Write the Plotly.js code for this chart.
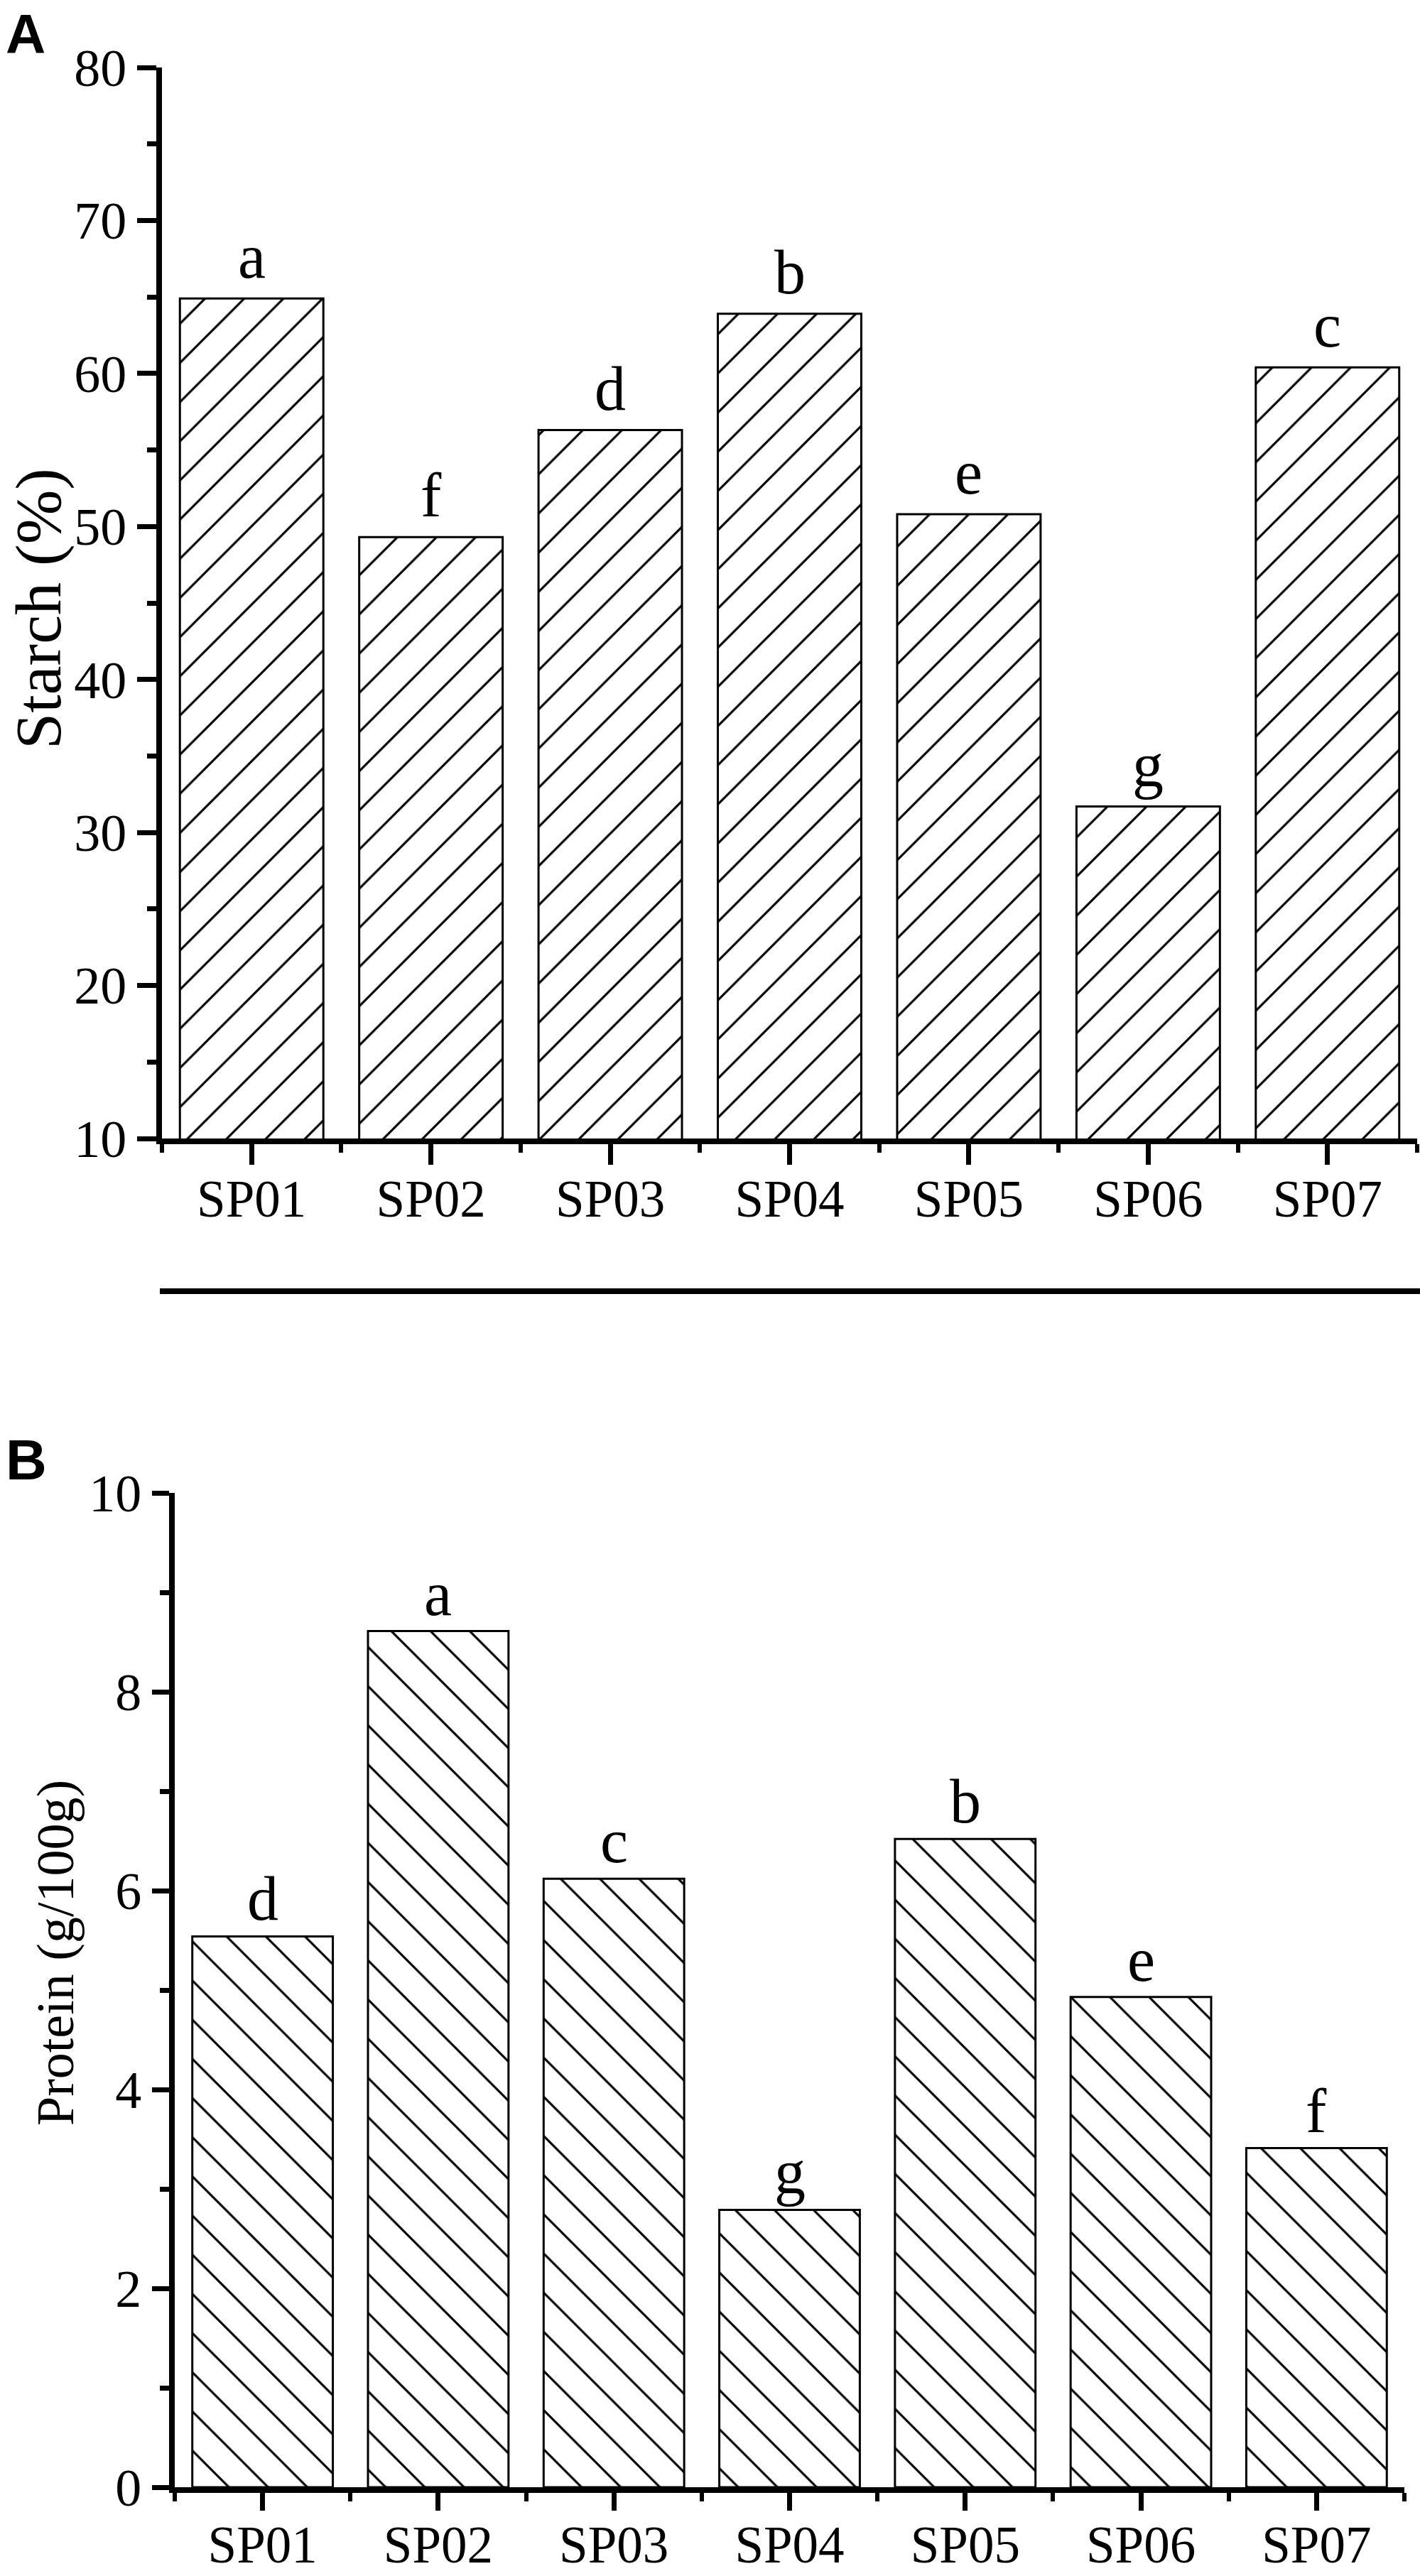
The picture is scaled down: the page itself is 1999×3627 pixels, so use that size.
<!DOCTYPE html>
<html><head><meta charset="utf-8">
<script src="https://cdn.plot.ly/plotly-3.0.1.min.js"></script>
<style>html,body{margin:0;padding:0;background:#fff}</style>
</head><body>
<div id="chart" style="width:1999px;height:3627px"></div>
<script>
// ---- data ----
const categories = ['SP01','SP02','SP03','SP04','SP05','SP06','SP07'];
const starch = [64.9, 49.3, 56.3, 63.9, 50.8, 31.7, 60.4];
const starchLetters = ['a','f','d','b','e','g','c'];
const protein = [5.54, 8.61, 6.12, 2.79, 6.52, 4.93, 3.41];
const proteinLetters = ['d','a','c','g','b','e','f'];
const starchTicks = [10,20,30,40,50,60,70,80];
const proteinTicks = [0,2,4,6,8,10];
const starchTitle = 'Starch (%)';
const proteinTitle = 'Protein (g/100g)';

const idx = categories.map((c,i)=>i);
const serif = '"Liberation Serif", "Times New Roman", serif';
const black = '#000';

function barTrace(y, shape, xa, ya){
  return {type:'bar', x: idx, y: y, width: 0.8, xaxis: xa, yaxis: ya,
    marker:{color:'#fff', line:{color:black, width:3},
      pattern:{shape:shape, fgcolor:black, bgcolor:'#fff', size:39, solidity:0.08}},
    hoverinfo:'skip'};
}

function xAxis(domain, anchor, ticklen){
  return {domain: domain, anchor: anchor, range:[-0.5,6.5], tickmode:'array', tickvals: idx, ticktext: categories,
    ticks:'outside', ticklen: ticklen, tickwidth:7, tickcolor:black, showline:true, linewidth:8, linecolor:black,
    showgrid:false, zeroline:false, tickfont:{family:serif, size:73, color:black}, ticklabelstandoff: -15,
    minor:{tickmode:'linear', tick0:-0.5, dtick:1, ticks:'outside', ticklen:12, tickwidth:6, tickcolor:black, showgrid:false},
    fixedrange:true};
}
function yAxis(domain, anchor, range, tickvals, minorDt, ticklen){
  return {domain: domain, anchor: anchor, range: range, tickmode:'array', tickvals: tickvals,
    ticks:'outside', ticklen: ticklen, tickwidth:7, tickcolor:black, showline:true, linewidth:8, linecolor:black,
    showgrid:false, zeroline:false, tickfont:{family:serif, size:74, color:black}, ticklabelstandoff: 0,
    minor:{tickmode:'linear', tick0:range[0], dtick:minorDt, ticks:'outside', ticklen:13, tickwidth:7, tickcolor:black, showgrid:false},
    fixedrange:true};
}

const annotations = [];
starchLetters.forEach((t,i)=>annotations.push({x:i, y:starch[i], xref:'x', yref:'y', text:t, showarrow:false,
  yanchor:'bottom', yshift:8, font:{family:serif, size:88, color:black}}));
proteinLetters.forEach((t,i)=>annotations.push({x:i, y:protein[i], xref:'x2', yref:'y2', text:t, showarrow:false,
  yanchor:'bottom', yshift:2, font:{family:serif, size:88, color:black}}));
// panel letters
annotations.push({xref:'paper', yref:'paper', x:6/1999, y:1-2/3627, xanchor:'left', yanchor:'top', text:'<b>A</b>', showarrow:false,
  font:{family:'"Liberation Sans", Arial, sans-serif', size:78, color:black}});
annotations.push({xref:'paper', yref:'paper', x:6/1999, y:1-2055/3627, xanchor:'left', yanchor:'middle', text:'<b>B</b>', showarrow:false,
  font:{family:'"Liberation Sans", Arial, sans-serif', size:80, color:black}});
// y titles
annotations.push({xref:'paper', yref:'paper', x:54/1999, y:1-857/3627, xanchor:'center', yanchor:'middle', text:starchTitle,
  textangle:-90, showarrow:false, font:{family:serif, size:92, color:black}});
annotations.push({xref:'paper', yref:'paper', x:78/1999, y:1-2750/3627, xanchor:'center', yanchor:'middle', text:proteinTitle,
  textangle:-90, showarrow:false, font:{family:serif, size:74, color:black}});

const layout = {
  width:1999, height:3627, margin:{l:0,r:0,t:0,b:0}, paper_bgcolor:'#fff', plot_bgcolor:'#fff',
  showlegend:false,
  xaxis: xAxis([228/1999, 1995/1999], 'y', 29),
  yaxis: yAxis([1-1603/3627, 1-95/3627], 'x', [10,80], starchTicks, 5, 27),
  xaxis2: xAxis([246/1999, 1977/1999], 'y2', 25),
  yaxis2: yAxis([1-3502/3627, 1-2102/3627], 'x2', [0,10], proteinTicks, 1, 24),
  annotations: annotations,
  shapes:[{type:'line', xref:'paper', yref:'paper', x0:225/1999, x1:1, y0:1-1818/3627, y1:1-1818/3627,
    line:{color:black, width:8}}]
};

Plotly.newPlot('chart', [barTrace(starch,'/','x','y'), barTrace(protein,'\\','x2','y2')], layout,
  {staticPlot:true, displayModeBar:false});
</script>
</body></html>
